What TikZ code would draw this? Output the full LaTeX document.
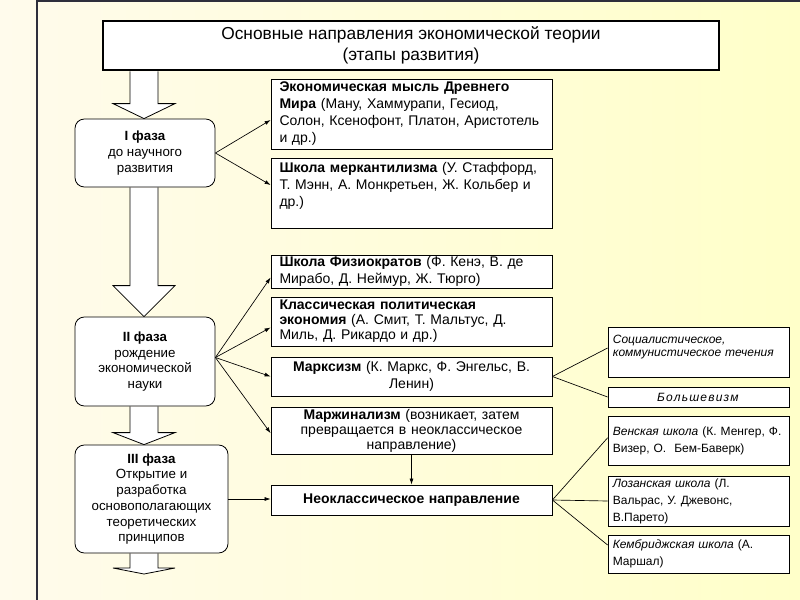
\documentclass[tikz,border=0pt]{standalone}
\usepackage{fontspec}
\setmainfont{Liberation Sans}
\usetikzlibrary{arrows.meta,calc,backgrounds}
\definecolor{slideleft}{HTML}{FFFBEC}
\definecolor{slideright}{HTML}{FFFFC9}
\definecolor{framecol}{HTML}{2E2E3C}
\newlength{\colw}
\setlength{\colw}{210.75pt}
\newlength{\subw}
\setlength{\subw}{135.75pt}
\newcommand{\bigarrow}[3]{%
  \draw[bigarr] ($(ax |- #1.south)+(-14,0)$) -- ($(ax |- #2)+(-14,-#3)$) -- ($(ax |- #2)+(-31,-#3)$)
    -- (ax |- #2) -- ($(ax |- #2)+(31,-#3)$) -- ($(ax |- #2)+(14,-#3)$) -- ($(ax |- #1.south)+(14,0)$);}

\begin{document}
\begin{tikzpicture}[x=0.75pt,y=-0.75pt,
  heading/.style={draw,fill=white,line width=2.2pt,minimum width=462pt,minimum height=36.75pt,align=center,font=\fontsize{13}{15.5}\selectfont},
  col/.style={draw,fill=white,line width=0.6pt,minimum width=\colw,inner xsep=6pt,inner ysep=0pt,text width=198pt,font=\fontsize{10.5}{12.75}\selectfont},
  sub/.style={draw,fill=white,line width=0.6pt,minimum width=\subw,inner xsep=3.5pt,inner ysep=0pt,text width=128.5pt,align=left,font=\fontsize{9}{12.75}\selectfont},
  phase/.style={draw,fill=white,line width=0.6pt,rounded corners=7pt,inner sep=0pt,align=center,font=\fontsize{10}{11.8}\selectfont},
  bigarr/.style={draw,fill=white,line width=0.6pt},
  link/.style={-{Latex[length=4.5pt,width=3pt]},line width=0.5pt},
  tie/.style={line width=0.5pt}]
  \useasboundingbox (0,0) rectangle (800,600);
  \begin{scope}[on background layer]
    \shade[left color=slideleft,right color=slideright] (0,0) rectangle (800,600);
    \draw[framecol,line width=1.2pt] (37,600) -- (37,1) -- (800,1);
  \end{scope}

  \node[heading] (t) at (411,45.5) {Основные направления экономической теории\\(этапы развития)};

  \node[phase,minimum width=105pt,minimum height=51pt] (p1) at (145,153) {\textbf{I фаза}\\до научного\\развития};
  \node[phase,minimum width=105pt,minimum height=66.75pt] (p2) at (145,361.5) {\textbf{II фаза}\\рождение\\экономической\\науки};
  \node[phase,minimum width=114.75pt,minimum height=81pt] (p3) at (151.5,499) {\textbf{III фаза}\\Открытие и\\разработка\\основополагающих\\теоретических\\принципов};
  \coordinate (ax) at (144,0);
  \coordinate (tail) at (144,574);

  \node[col,align=left,minimum height=52.5pt] (m1) at (411.5,114) {\textbf{Экономическая мысль Древнего}\\\textbf{Мира} (Ману, Хаммурапи, Гесиод,\\Солон, Ксенофонт, Платон, Аристотель\\и др.)};
  \node[col,align=left,minimum height=52.5pt] (m2) at (411.5,193) {\textbf{Школа меркантилизма} (У. Стаффорд,\\Т. Мэнн, А. Монкретьен, Ж. Кольбер и\\др.)\\\mbox{}};
  \node[col,align=left,minimum height=24.75pt] (m3) at (411.5,271.5) {\textbf{Школа Физиократов} (Ф. Кенэ, В. де\\Мирабо, Д. Неймур, Ж. Тюрго)};
  \node[col,align=left,minimum height=36.75pt,font=\fontsize{10.5}{11.25}\selectfont] (m4) at (411.5,321.5) {\textbf{Классическая политическая}\\\textbf{экономия} (А. Смит, Т. Мальтус, Д.\\Миль, Д. Рикардо и др.)};
  \node[col,align=center,minimum height=29.25pt] (m5) at (411.5,376.5) {\textbf{Марксизм} (К. Маркс, Ф. Энгельс, В.\\Ленин)};
  \node[col,align=center,minimum height=35.25pt,font=\fontsize{10.5}{11.25}\selectfont] (m6) at (411.5,430.5) {\textbf{Маржинализм} (возникает, затем\\превращается в неоклассическое\\направление)};
  \node[col,align=center,minimum height=22.5pt] (m7) at (411.5,500) {\textbf{Неоклассическое направление}};

  \node[sub,minimum height=37.5pt,font=\fontsize{9}{9.75}\selectfont] (s1) at (698.5,352) {\textit{Социалистическое,}\\\textit{коммунистическое течения}\\\mbox{}};
  \node[sub,minimum height=15pt,align=center] (s2) at (698.5,397) {\addfontfeatures{LetterSpace=10}\textit{Большевизм}};
  \node[sub,minimum height=36.75pt] (s3) at (698.5,440.5) {\textit{Венская школа} (К. Менгер, Ф.\\Визер, О.\ \ Бем-Баверк)};
  \node[sub,minimum height=37.5pt] (s4) at (698.5,501) {\textit{Лозанская школа} (Л.\\Вальрас, У. Джевонс,\\В.Парето)};
  \node[sub,minimum height=28.5pt] (s5) at (698.5,554) {\textit{Кембриджская школа} (А.\\Маршал)};

  \begin{scope}[on background layer]
    \bigarrow{t}{p1.north}{15}
    \bigarrow{p1}{p2.north}{31}
    \bigarrow{p2}{p3.north}{12}
    \bigarrow{p3}{tail}{6}
  \end{scope}

  \draw[link] (p1.east) -- ([yshift=-4.5pt]m1.west);
  \draw[link] (p1.east) -- ([yshift=6pt]m2.west);
  \draw[link] ([yshift=3pt]p2.east) -- ([yshift=-4.5pt]m3.west);
  \draw[link] ([yshift=3pt]p2.east) -- ([yshift=-4.5pt]m4.west);
  \draw[link] ([yshift=3pt]p2.east) -- (m5.west);
  \draw[link] ([yshift=3pt]p2.east) -- ([yshift=-2pt]m6.west);
  \draw[link] (p3.east) -- (p3.east -| m7.west);
  \draw[link] (m6.south) -- (m7.north);
  \draw[tie] (m5.east) -- ([yshift=3pt]s1.west);
  \draw[tie] (m5.east) -- (s2.west);
  \draw[tie] (m7.east) -- ([yshift=2pt]s3.west);
  \draw[tie] (m7.east) -- (s4.west);
  \draw[tie] (m7.east) -- ([yshift=6.75pt]s5.west);
\end{tikzpicture}
\end{document}
